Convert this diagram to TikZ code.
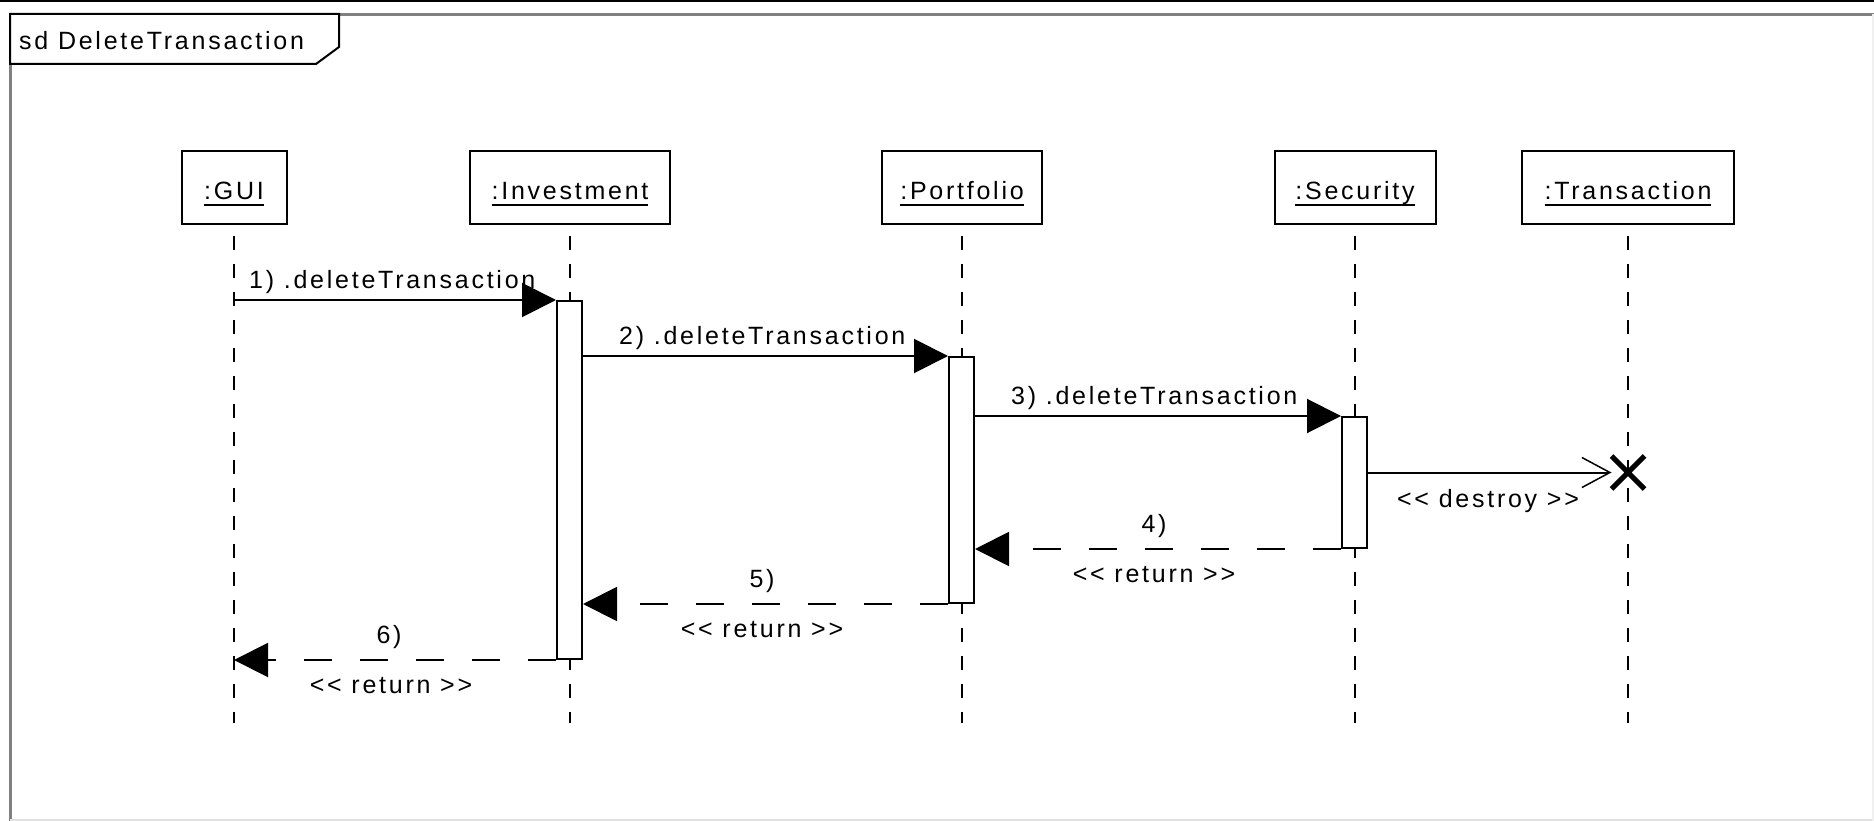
\documentclass[tikz,border=0pt]{standalone}
\usepackage{fontspec}
\usetikzlibrary{arrows.meta,shapes.misc}
\newfontfamily\umlf{Liberation Sans}[LetterSpace=11,Ligatures=TeXOff]
\newcommand\ulbl[1]{\setbox0=\hbox{#1}\rlap{\copy0}\rule[-6pt]{\wd0}{2pt}}
\begin{document}
\begin{tikzpicture}[x=1pt,y=-1pt,
  every node/.style={font=\umlf\fontsize{25pt}{29pt}\selectfont, inner sep=0pt},
  lifebox/.style={draw, line width=2pt, fill=white, minimum height=73pt},
  lifeline/.style={line width=2pt, dash pattern=on 14pt off 14pt},
  actbox/.style={draw, line width=2pt, fill=white, minimum width=25pt},
  msg/.style={line width=2pt, -{Triangle[length=34pt,width=34pt]}},
  ret/.style={line width=2pt, dash pattern=on 28pt off 28pt, -{Triangle[length=34pt,width=34pt]}},
  dest/.style={line width=2pt, -{Straight Barb[length=28pt,width=30pt,line width=1.5pt]}},
  frameline/.style={color=gray, line width=3pt}
]
\useasboundingbox (0,0) rectangle (1874,821);
% outer frame
\fill[black] (0,0) rectangle (1874,2.5);
\draw[frameline] (10,14.5) -- (1874,14.5);
\draw[frameline] (10.5,13) -- (10.5,821);
\draw[black!12, line width=2pt] (10,820) -- (1874,820);
\draw[black!6, line width=2pt] (1873,14) -- (1873,821);
% tab
\draw[line width=2pt, fill=white] (10,14) -- (339,14) -- (339,47) -- (316,64) -- (10,64) -- cycle;
\node[anchor=base west] (title) at (19,50) {sd DeleteTransaction};

% lifeline heads
\node[lifebox, minimum width=105pt] (gui) at (234,187.5) {};
\node[lifebox, minimum width=200pt] (inv) at (570,187.5) {};
\node[lifebox, minimum width=160pt] (port) at (962,187.5) {};
\node[lifebox, minimum width=161pt] (sec) at (1355,187.5) {};
\node[lifebox, minimum width=212pt] (tra) at (1628,187.5) {};
\node[anchor=base] (guil) at (234,200) {\ulbl{:GUI}};
\node[anchor=base] (invl) at (570,200) {\ulbl{:Investment}};
\node[anchor=base] (portl) at (962,200) {\ulbl{:Portfolio}};
\node[anchor=base] (secl) at (1355,200) {\ulbl{:Security}};
\node[anchor=base] (tral) at (1628,200) {\ulbl{:Transaction}};

% lifelines
\coordinate (bottom) at (0,723);
\draw[lifeline] ([yshift=-11pt]gui.south) -- (gui.south |- bottom);
\draw[lifeline] ([yshift=-11pt]inv.south) -- (inv.south |- bottom);
\draw[lifeline] ([yshift=-11pt]port.south) -- (port.south |- bottom);
\draw[lifeline] ([yshift=-11pt]sec.south) -- (sec.south |- bottom);
\draw[lifeline] ([yshift=-11pt]tra.south) -- (tra.south |- bottom);

% activations
\node[actbox, minimum height=358pt] (invact) at (569.5,480) {};
\node[actbox, minimum height=246pt] (portact) at (961.5,480) {};
\node[actbox, minimum height=131pt] (secact) at (1354.5,482.5) {};

% destroy mark
\node[cross out, draw, line width=5pt, minimum size=28pt] (xm) at (1628,472.5) {};

% calls
\draw[msg] (gui.south |- invact.north west) -- (invact.north west);
\node[anchor=base west] (m1) at (249,288) {1) .deleteTransaction};
\draw[msg] (invact.north east |- portact.north west) -- (portact.north west);
\node[anchor=base west] (m2) at (619,344) {2) .deleteTransaction};
\draw[msg] (portact.north east |- secact.north west) -- (secact.north west);
\node[anchor=base west] (m3) at (1011,404) {3) .deleteTransaction};
\draw[dest] (secact.east |- xm) -- (xm.west);
\node[anchor=base] (md) at (1488,507) {<< destroy >>};

% returns
\draw[ret] (secact.south west) -- (portact.east |- secact.south west);
\node[anchor=base] (r4n) at (1154,532) {4)};
\node[anchor=base] (r4) at (1154,582) {<< return >>};
\draw[ret] (portact.south west) -- (invact.east |- portact.south west);
\node[anchor=base] (r5n) at (762,587) {5)};
\node[anchor=base] (r5) at (762,637) {<< return >>};
\draw[ret] (invact.south west) -- (gui.south |- invact.south west);
\node[anchor=base] (r6n) at (389,643) {6)};
\node[anchor=base] (r6) at (391,693) {<< return >>};
\end{tikzpicture}
\end{document}
